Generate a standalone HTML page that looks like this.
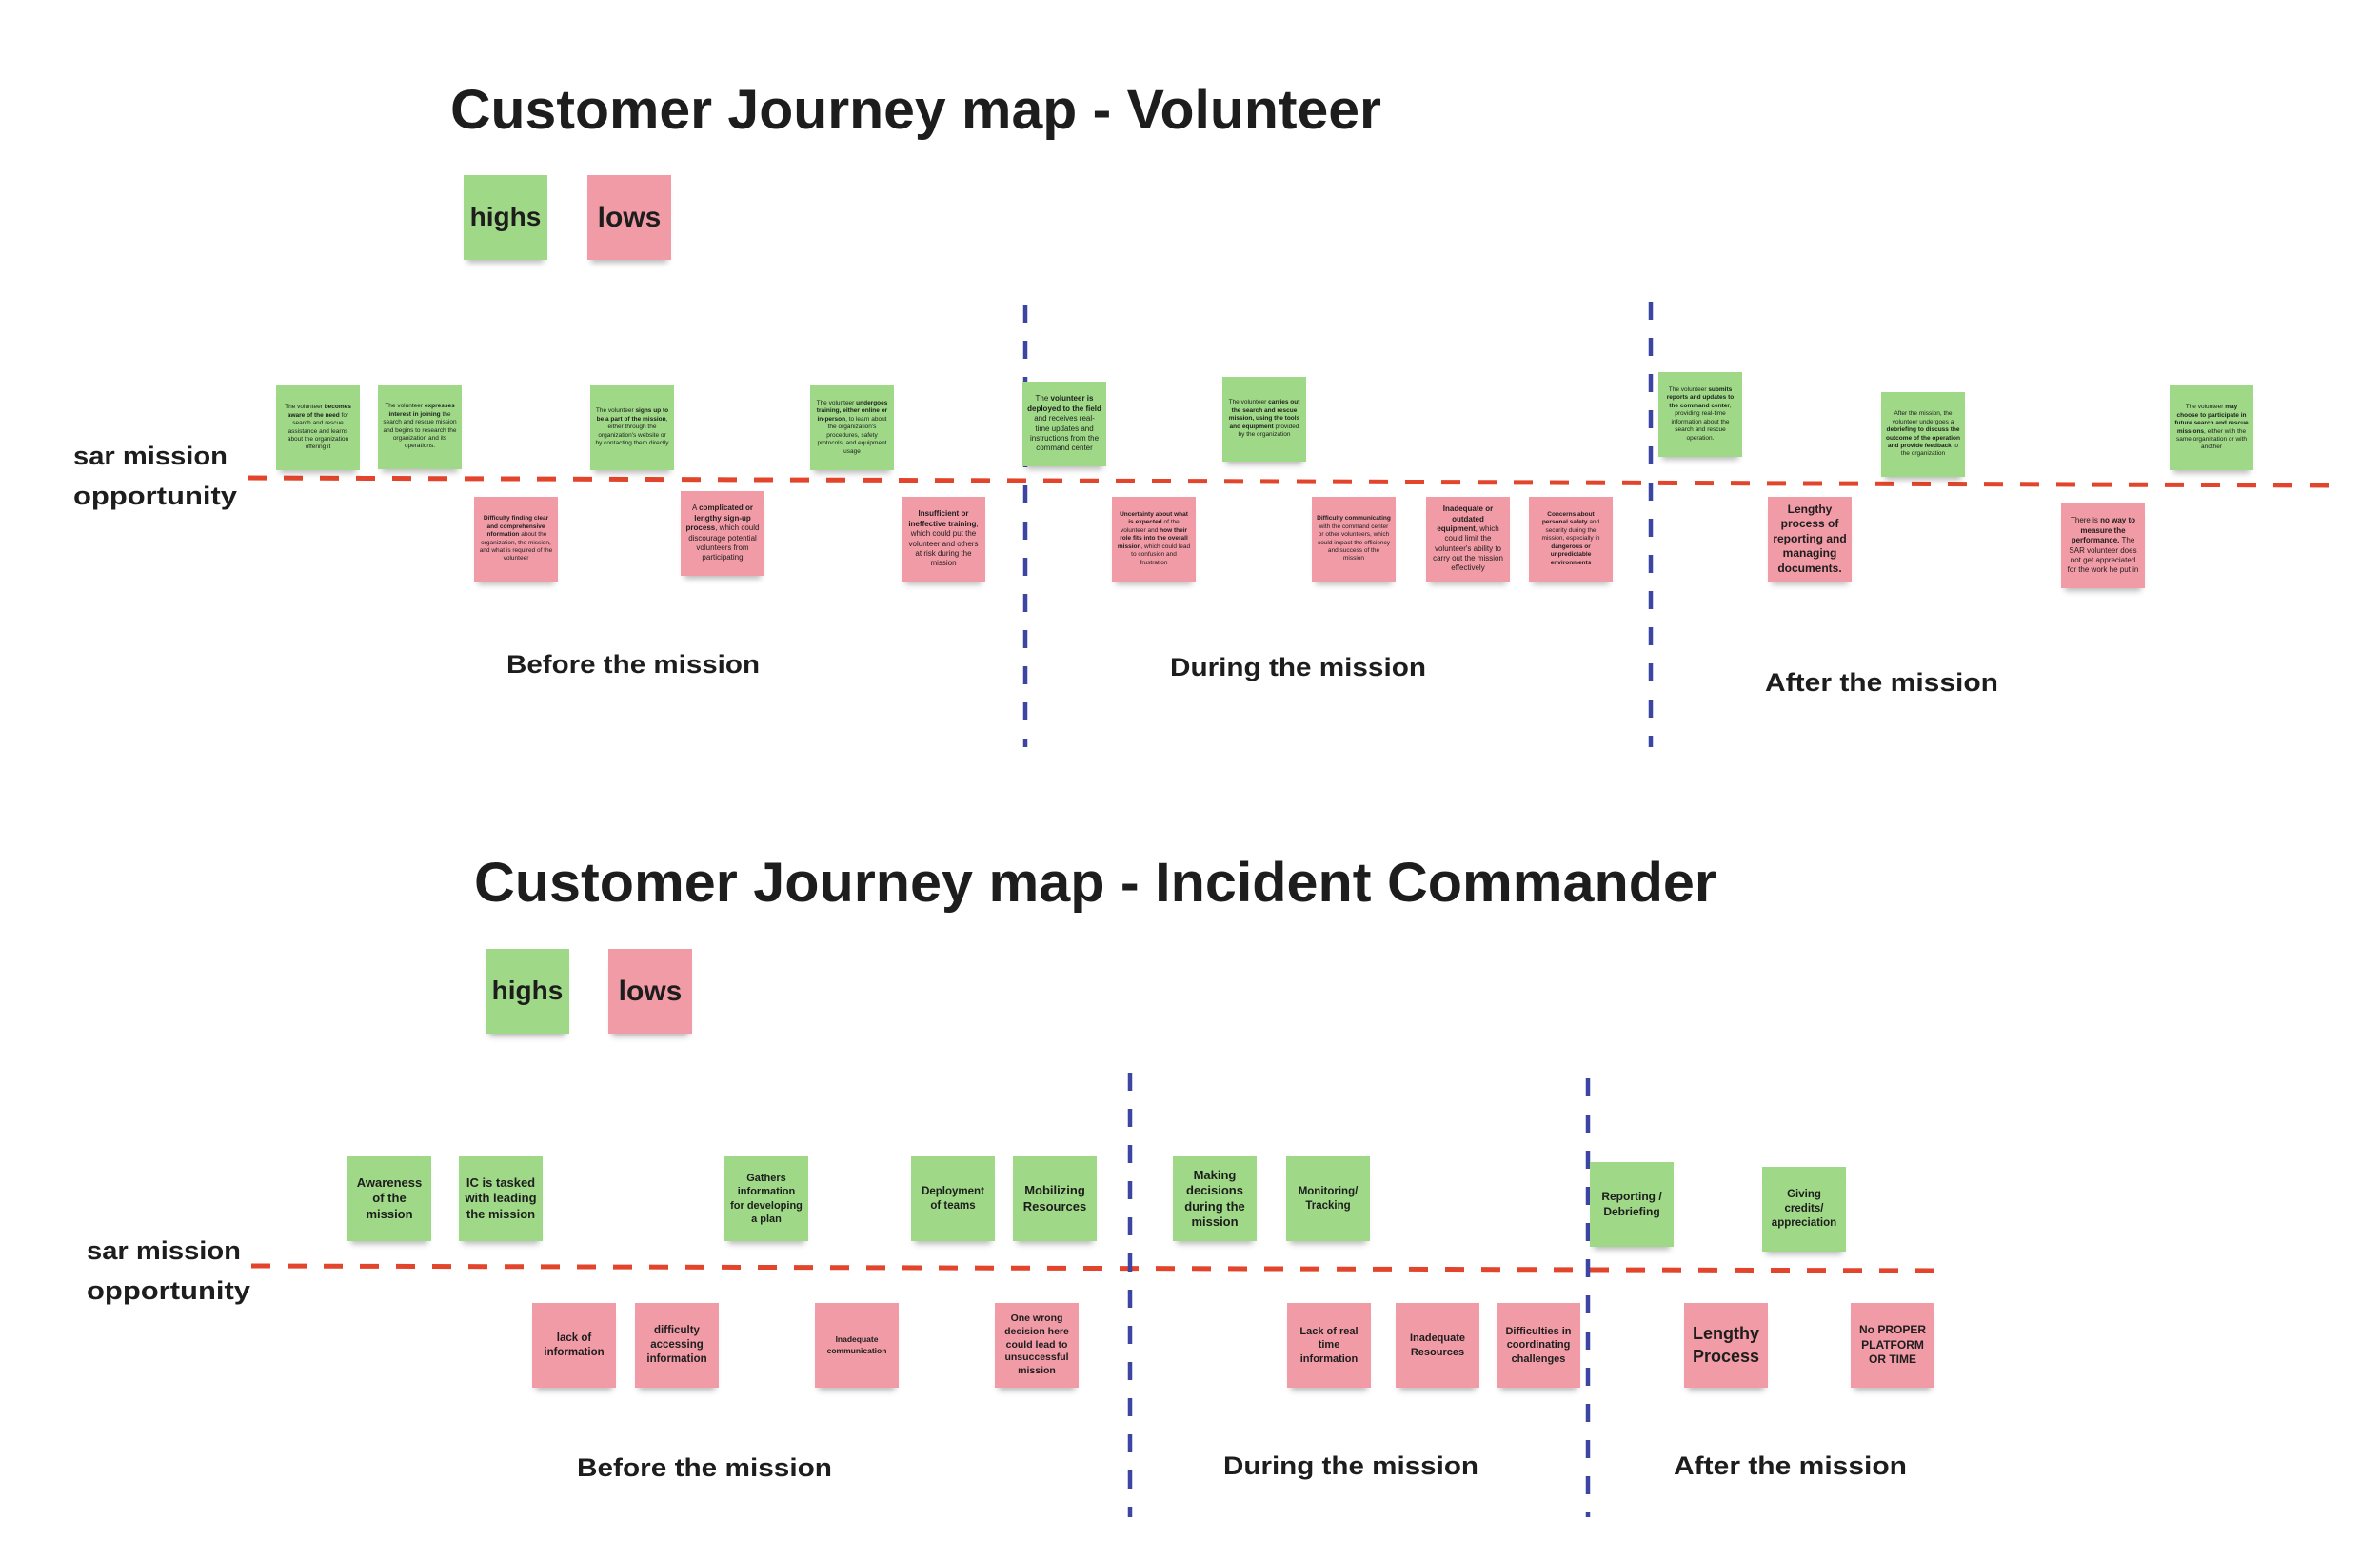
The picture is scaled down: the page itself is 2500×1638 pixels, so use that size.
<!DOCTYPE html>
<html><head><meta charset="utf-8"><style>
html,body{margin:0;padding:0;background:#fff;}
#c{position:relative;width:2500px;height:1638px;overflow:hidden;background:#fff;font-family:"Liberation Sans Narrow","Liberation Sans",sans-serif;color:#1d1d1d;}
.n{position:absolute;width:88px;height:89px;display:flex;align-items:center;justify-content:center;text-align:center;box-sizing:border-box;padding:3px 5px;line-height:1.3;box-shadow:0 7px 6px -4px rgba(0,0,0,0.28);}
.n span{display:block;}
.g{background:#9fd987;}
.p{background:#f19ba6;}
.t{font-size:6.5px;}
.m{font-size:8px;}
.b{font-size:13px;font-weight:bold;line-height:1.25;}
svg{position:absolute;left:0;top:0;}
</style></head><body><div id="c">
<svg width="2500" height="1638" xmlns="http://www.w3.org/2000/svg">
<g font-family="Liberation Sans, sans-serif" font-weight="bold" fill="#1d1d1d">
<text x="473" y="135" font-size="58" textLength="978" lengthAdjust="spacingAndGlyphs">Customer Journey map - Volunteer</text>
<text x="498" y="947" font-size="58" textLength="1305" lengthAdjust="spacingAndGlyphs">Customer Journey map - Incident Commander</text>
<text x="77" y="488" font-size="27" textLength="162" lengthAdjust="spacingAndGlyphs">sar mission</text>
<text x="77" y="530" font-size="27" textLength="172" lengthAdjust="spacingAndGlyphs">opportunity</text>
<text x="91" y="1323" font-size="27" textLength="162" lengthAdjust="spacingAndGlyphs">sar mission</text>
<text x="91" y="1365" font-size="27" textLength="172" lengthAdjust="spacingAndGlyphs">opportunity</text>
<g font-size="27">
<text x="532" y="707" textLength="266" lengthAdjust="spacingAndGlyphs">Before the mission</text>
<text x="1229" y="710" textLength="269" lengthAdjust="spacingAndGlyphs">During the mission</text>
<text x="1854" y="726" textLength="245" lengthAdjust="spacingAndGlyphs">After the mission</text>
<text x="606" y="1551" textLength="268" lengthAdjust="spacingAndGlyphs">Before the mission</text>
<text x="1285" y="1549" textLength="268" lengthAdjust="spacingAndGlyphs">During the mission</text>
<text x="1758" y="1549" textLength="245" lengthAdjust="spacingAndGlyphs">After the mission</text>
</g></g>
<g stroke="#e2452b" stroke-width="5" stroke-dasharray="20 18" fill="none">
<line x1="260" y1="502" x2="2452" y2="510"/>
<line x1="264" y1="1330" x2="2035" y2="1335"/>
</g>
<g stroke="#3d45a3" stroke-width="4.5" stroke-dasharray="19 19" fill="none">
<line x1="1077" y1="320" x2="1077" y2="785"/>
<line x1="1734" y1="317" x2="1734" y2="785"/>
<line x1="1187" y1="1127" x2="1187" y2="1594"/>
<line x1="1668" y1="1133" x2="1668" y2="1594"/>
</g>
</svg>
<div class="n g" style="left:487px;top:184px;font-size:28px;font-weight:bold;">highs</div>
<div class="n p" style="left:617px;top:184px;font-size:30px;font-weight:bold;">lows</div>
<div class="n g" style="left:510px;top:997px;font-size:28px;font-weight:bold;">highs</div>
<div class="n p" style="left:639px;top:997px;font-size:30px;font-weight:bold;">lows</div>

<div class="n g t" style="left:290px;top:405px;"><span>The volunteer <b>becomes aware of the need</b> for search and rescue assistance and learns about the organization offering it</span></div>
<div class="n g t" style="left:397px;top:404px;"><span>The volunteer <b>expresses interest in joining</b> the search and rescue mission and begins to research the organization and its operations.</span></div>
<div class="n g t" style="left:620px;top:405px;"><span>The volunteer <b>signs up to be a part of the mission</b>, either through the organization's website or by contacting them directly</span></div>
<div class="n g t" style="left:851px;top:405px;"><span>The volunteer <b>undergoes training, either online or in-person</b>, to learn about the organization's procedures, safety protocols, and equipment usage</span></div>
<div class="n g m" style="left:1074px;top:401px;"><span>The <b>volunteer is deployed to the field</b> and receives real-time updates and instructions from the command center</span></div>
<div class="n g t" style="left:1284px;top:396px;"><span>The volunteer <b>carries out the search and rescue mission, using the tools and equipment</b> provided by the organization</span></div>
<div class="n g t" style="left:1742px;top:391px;"><span>The volunteer <b>submits reports and updates to the command center</b>, providing real-time information about the search and rescue operation.</span></div>
<div class="n g t" style="left:1976px;top:412px;"><span>After the mission, the volunteer undergoes a <b>debriefing to discuss the outcome of the operation and provide feedback</b> to the organization</span></div>
<div class="n g t" style="left:2279px;top:405px;"><span>The volunteer <b>may choose to participate in future search and rescue missions</b>, either with the same organization or with another</span></div>

<div class="n p t" style="left:498px;top:522px;"><span><b>Difficulty finding clear and comprehensive information</b> about the organization, the mission, and what is required of the volunteer</span></div>
<div class="n p m" style="left:715px;top:516px;"><span>A <b>complicated or lengthy sign-up process</b>, which could discourage potential volunteers from participating</span></div>
<div class="n p m" style="left:947px;top:522px;"><span><b>Insufficient or ineffective training</b>, which could put the volunteer and others at risk during the mission</span></div>
<div class="n p t" style="left:1168px;top:522px;"><span><b>Uncertainty about what is expected</b> of the volunteer and <b>how their role fits into the overall mission</b>, which could lead to confusion and frustration</span></div>
<div class="n p t" style="left:1378px;top:522px;"><span><b>Difficulty communicating</b> with the command center or other volunteers, which could impact the efficiency and success of the mission</span></div>
<div class="n p m" style="left:1498px;top:522px;"><span><b>Inadequate or outdated equipment</b>, which could limit the volunteer's ability to carry out the mission effectively</span></div>
<div class="n p t" style="left:1606px;top:522px;"><span><b>Concerns about personal safety</b> and security during the mission, especially in <b>dangerous or unpredictable environments</b></span></div>
<div class="n p" style="left:1857px;top:522px;font-size:12px;font-weight:bold;"><span>Lengthy process of reporting and managing documents.</span></div>
<div class="n p m" style="left:2165px;top:529px;"><span>There is <b>no way to measure the performance.</b> The SAR volunteer does not get appreciated for the work he put in</span></div>

<div class="n g b" style="left:365px;top:1215px;"><span>Awareness of the mission</span></div>
<div class="n g b" style="left:482px;top:1215px;"><span>IC is tasked with leading the mission</span></div>
<div class="n g" style="left:761px;top:1215px;font-size:11px;font-weight:bold;"><span>Gathers information for developing a plan</span></div>
<div class="n g" style="left:957px;top:1215px;font-size:11.5px;font-weight:bold;"><span>Deployment of teams</span></div>
<div class="n g b" style="left:1064px;top:1215px;"><span>Mobilizing Resources</span></div>
<div class="n g b" style="left:1232px;top:1215px;"><span>Making decisions during the mission</span></div>
<div class="n g" style="left:1351px;top:1215px;font-size:11.5px;font-weight:bold;"><span>Monitoring/ Tracking</span></div>
<div class="n g" style="left:1670px;top:1221px;font-size:12px;font-weight:bold;"><span>Reporting / Debriefing</span></div>
<div class="n g" style="left:1851px;top:1226px;font-size:11.5px;font-weight:bold;"><span>Giving credits/ appreciation</span></div>

<div class="n p" style="left:559px;top:1369px;font-size:11.5px;font-weight:bold;"><span>lack of information</span></div>
<div class="n p" style="left:667px;top:1369px;font-size:11.5px;font-weight:bold;"><span>difficulty accessing information</span></div>
<div class="n p" style="left:856px;top:1369px;font-size:8.5px;font-weight:bold;"><span>Inadequate communication</span></div>
<div class="n p" style="left:1045px;top:1369px;font-size:10.5px;font-weight:bold;"><span>One wrong decision here could lead to unsuccessful mission</span></div>
<div class="n p" style="left:1352px;top:1369px;font-size:11px;font-weight:bold;"><span>Lack of real time information</span></div>
<div class="n p" style="left:1466px;top:1369px;font-size:11px;font-weight:bold;"><span>Inadequate Resources</span></div>
<div class="n p" style="left:1572px;top:1369px;font-size:11px;font-weight:bold;"><span>Difficulties in coordinating challenges</span></div>
<div class="n p" style="left:1769px;top:1369px;font-size:18px;font-weight:bold;"><span>Lengthy Process</span></div>
<div class="n p" style="left:1944px;top:1369px;font-size:12px;font-weight:bold;"><span>No PROPER PLATFORM OR TIME</span></div>
</div></body></html>
